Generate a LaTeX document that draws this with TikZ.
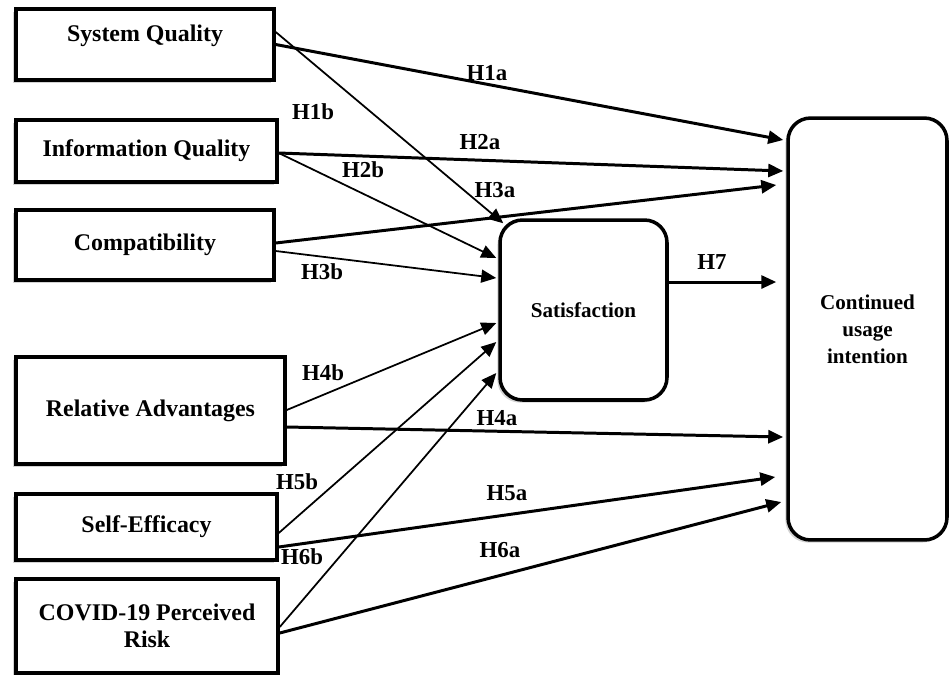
\documentclass[tikz,border=0pt]{standalone}
\usepackage{fontspec}
\setmainfont{Liberation Serif}
\usetikzlibrary{arrows.meta,calc,shadows}

\begin{document}
\begin{tikzpicture}[x=0.02cm, y=-0.02cm, font=\bfseries,
  >={Triangle[length=0.3cm,width=0.26cm]},
  box/.style={draw, line width=2pt, fill=white, align=center,
    font=\fontsize{13.6}{15.4}\selectfont\bfseries,
    drop shadow={shadow xshift=-1.5pt, shadow yshift=-1.5pt, opacity=0.35}},
  roundbox/.style={box, rounded corners=0.45cm, font=\fontsize{12}{15.4}\selectfont\bfseries},
  strong/.style={->, line width=1.7pt},
  weak/.style={->, line width=1pt},
  hyp/.style={font=\fontsize{13}{15}\selectfont\bfseries}]
  \useasboundingbox (0,0) rectangle (949,674);
  % constructs
  \node[box, minimum width=5.16cm, minimum height=1.42cm, text depth=0.45cm] (sq) at (145,44.5) {System Quality};
  \node[box, minimum width=5.22cm, minimum height=1.24cm] (iq) at (146.5,151) {Information Quality};
  \node[box, minimum width=5.16cm, minimum height=1.4cm] (comp) at (145,245) {Compatibility};
  \node[box, minimum width=5.38cm, minimum height=2.14cm] (ra) at (150.5,410.5) {Relative Advantages};
  \node[box, minimum width=5.22cm, minimum height=1.32cm] (se) at (146.5,527) {Self-Efficacy};
  \node[box, minimum width=5.24cm, minimum height=1.88cm] (covid) at (147,626) {COVID-19 Perceived\\Risk};
  \node[roundbox, minimum width=3.34cm, minimum height=3.6cm] (sat) at (583.5,310) {Satisfaction};
  \node[roundbox, minimum width=3.18cm, minimum height=8.44cm] (cui) at (867.5,329) {Continued\\usage\\intention};
  % paths to continued usage intention
  \draw[strong] (sq.east) -- ($(cui.west)+(-3,-189)$);
  \draw[strong] ($(iq.east)+(0,2)$) -- ($(cui.west)+(-3,-158)$);
  \draw[strong] ($(comp.east)+(0,-2)$) -- ($(cui.west)+(-10,-144)$);
  \draw[strong] ($(sat.east)+(0,-28)$) -- ($(cui.west)+(-10,-47)$);
  \draw[strong] ($(ra.east)+(0,16.5)$) -- ($(cui.west)+(-3,108)$);
  \draw[strong] ($(se.east)+(0,20)$) -- ($(cui.west)+(-11,148)$);
  \draw[strong] ($(covid.east)+(0,7)$) -- ($(cui.west)+(-5,173)$);
  % paths to satisfaction
  \draw[weak] ($(sq.east)+(0,-12.5)$) -- ($(sat.north west)+(5,5)$);
  \draw[weak] ($(iq.east)+(0,2)$) -- ($(sat.west)+(-2,-52)$);
  \draw[weak] ($(comp.east)+(0,6)$) -- ($(sat.west)+(-2,-32)$);
  \draw[weak] ($(ra.east)+(0,-0.5)$) -- ($(sat.west)+(-2,13)$);
  \draw[weak] ($(se.east)+(0,6)$) -- ($(sat.west)+(-2,32)$);
  \draw[weak] ($(covid.east)+(0,1)$) -- ($(sat.west)+(-2,63)$);
  % hypothesis labels
  \node[hyp] (h1a) at (487,73) {H1a};
  \node[hyp] (h1b) at (313,112) {H1b};
  \node[hyp] (h2a) at (480,142) {H2a};
  \node[hyp] (h2b) at (363,170) {H2b};
  \node[hyp] (h3a) at (495,190) {H3a};
  \node[hyp] (h3b) at (322,272) {H3b};
  \node[hyp] (h7) at (712,262) {H7};
  \node[hyp] (h4b) at (323,373) {H4b};
  \node[hyp] (h4a) at (497,418) {H4a};
  \node[hyp] (h5b) at (297,482) {H5b};
  \node[hyp] (h5a) at (507,493) {H5a};
  \node[hyp] (h6b) at (302,557) {H6b};
  \node[hyp] (h6a) at (500,550) {H6a};
\end{tikzpicture}
\end{document}
